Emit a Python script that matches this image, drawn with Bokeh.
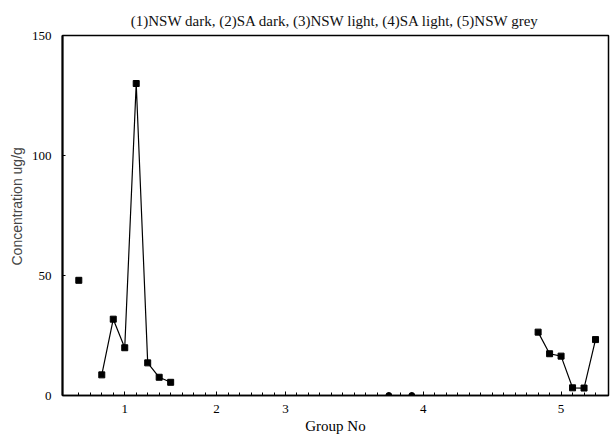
import math
from bokeh.plotting import figure
from bokeh.models import FixedTicker, Range1d, Title
from bokeh.embed import file_html
from bokeh.resources import INLINE

nan = float("nan")

# ---- data ----
title_text = "(1)NSW dark, (2)SA dark, (3)NSW light, (4)SA light, (5)NSW grey"
x_label = "Group No"
y_label = "Concentration ug/g"

# sample index along x, value in ug/g ; NaN = gap (no line joining)
g1_index = [1, 2, 3, 4, 5, 6, 7, 8, 9]
g1_value = [48, nan, 8.6, 31.8, 19.9, 130, 13.6, 7.6, 5.5]

g4_index = [28, 29, 30]
g4_value = [0, nan, 0]

g5_index = [41, 42, 43, 44, 45, 46]
g5_value = [26.4, 17.4, 16.4, 3.2, 3.1, 23.3]

all_samples = list(range(1, 47))
group_tick_pos = [5, 13, 19, 31, 43]
group_tick_labels = ["1", "2", "3", "4", "5"]
y_ticks = [0, 50, 100, 150]

# ---- figure ----
p = figure(width=610, height=440, output_backend="svg", toolbar_location=None,
           x_range=Range1d(-0.42, 47.13), y_range=Range1d(0, 150),
           min_border_left=62, min_border_right=2, min_border_top=35,
           min_border_bottom=45)
p.background_fill_color = "white"
p.border_fill_color = "white"
p.outline_line_color = "black"
p.outline_line_width = 1.5
p.xgrid.visible = False
p.ygrid.visible = False

serif = "Liberation Serif"

t = Title(text=title_text, align="center", text_font=serif,
          text_font_size="15px", text_font_style="normal",
          text_color="#111111", standoff=14)
p.add_layout(t, "above")

ylt = Title(text=y_label, align="left", offset=130, text_font="Liberation Sans",
            text_font_size="14px", text_font_style="normal",
            text_color="#444444", standoff=8)
p.add_layout(ylt, "left")

xa = p.xaxis[0]
xa.ticker = FixedTicker(ticks=group_tick_pos, minor_ticks=all_samples)
xa.major_label_overrides = {t_: lab for t_, lab in zip(group_tick_pos, group_tick_labels)}
xa.major_tick_in = 4
xa.major_tick_out = 0
xa.minor_tick_in = 3
xa.minor_tick_out = 0
xa.axis_line_width = 1.5
xa.major_label_text_font = serif
xa.major_label_text_font_size = "13px"
xa.major_label_text_color = "black"
xa.major_label_standoff = 9
xa.axis_label = x_label
xa.axis_label_text_font = serif
xa.axis_label_text_font_size = "15px"
xa.axis_label_text_font_style = "normal"
xa.axis_label_text_color = "black"
xa.axis_label_standoff = 2

ya = p.yaxis[0]
ya.ticker = FixedTicker(ticks=y_ticks, minor_ticks=[])
ya.major_tick_in = 3
ya.major_tick_out = 0
ya.axis_line_width = 2
ya.major_label_text_font = serif
ya.major_label_text_font_size = "13px"
ya.major_label_text_color = "black"
ya.major_label_standoff = 11

# ---- series ----
p.line(g1_index, g1_value, line_color="black", line_width=1.2)
p.scatter(g1_index, g1_value, marker="square", size=6, color="black")

p.scatter(g4_index, g4_value, marker="circle", size=6, color="black")

p.line(g5_index, g5_value, line_color="black", line_width=1.2)
p.scatter(g5_index, g5_value, marker="square", size=6, color="black")

open("out.html", "w").write(file_html(p, INLINE))
